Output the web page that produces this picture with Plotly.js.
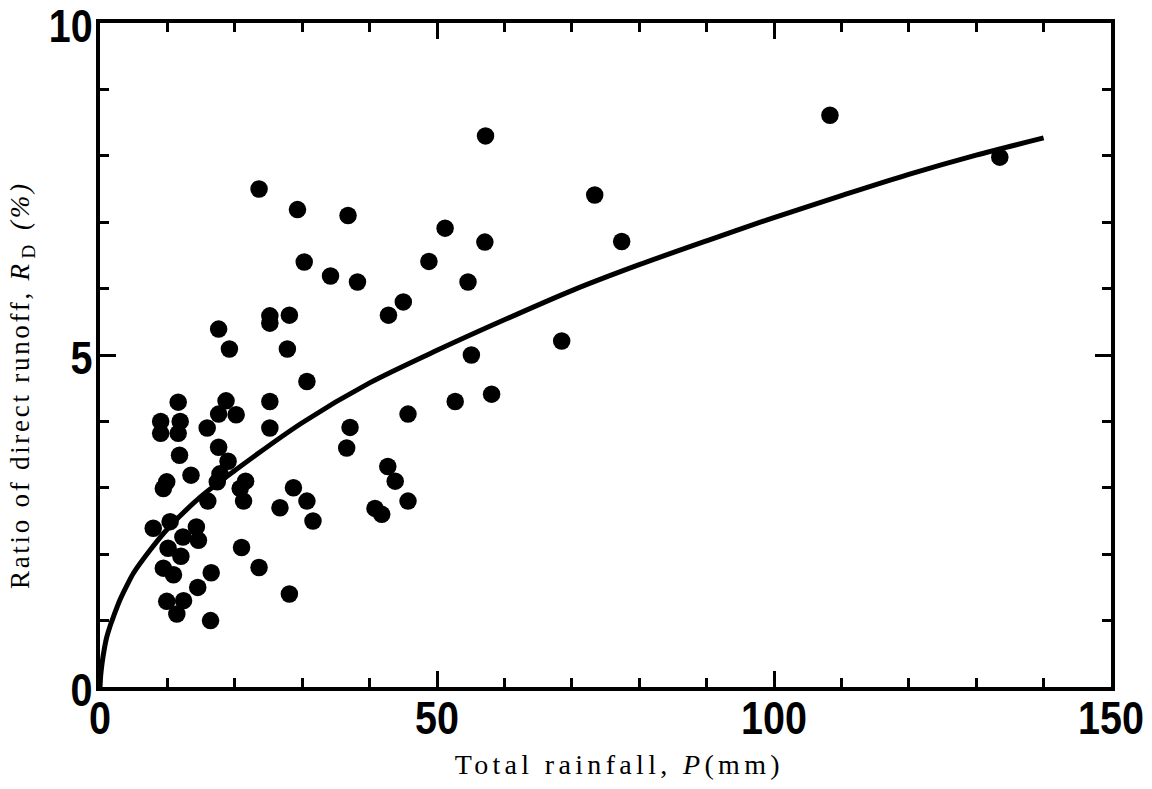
<!DOCTYPE html>
<html>
<head>
<meta charset="utf-8">
<script src="https://cdn.plot.ly/plotly-3.0.1.min.js"></script>
<style>
html,body{margin:0;padding:0;background:#fff;}
#chart{width:1152px;height:789px;}
</style>
</head>
<body>
<div id="chart"></div>
<script>
// Observed storms: total rainfall P (mm) and ratio of direct runoff R_D (%)
const rainfallP = [
  108.3, 133.5, 57.2, 73.4, 77.4, 68.5, 23.6, 29.3, 36.8, 51.2,
  57.1, 30.3, 34.2, 38.2, 48.8, 54.6, 45.0, 42.8, 55.1, 52.7,
  58.1, 45.7, 30.7, 37.1, 36.6, 42.7, 43.8, 28.7, 30.7, 26.7,
  31.6, 45.7, 40.8, 41.8, 28.1, 23.6, 21.0, 25.2, 25.2, 28.1,
  17.6, 19.2, 27.8, 18.7, 17.6, 20.2, 15.9, 25.2, 25.2, 17.6,
  19.0, 17.8, 17.4, 16.0, 21.6, 20.8, 21.3, 11.6, 9.0, 9.0,
  11.9, 11.6, 11.8, 9.9, 9.4, 13.5, 7.9, 10.4, 14.3, 14.6,
  12.3, 10.1, 12.0, 9.4, 10.9, 16.5, 14.5, 9.9, 12.4, 11.4,
  16.4
];
const runoffRD = [
  8.61, 7.98, 8.30, 7.41, 6.71, 5.21, 7.50, 7.19, 7.10, 6.91,
  6.70, 6.40, 6.19, 6.10, 6.41, 6.10, 5.80, 5.60, 5.00, 4.30,
  4.41, 4.11, 4.60, 3.91, 3.60, 3.32, 3.10, 3.00, 2.80, 2.70,
  2.50, 2.80, 2.69, 2.60, 1.40, 1.80, 2.10, 5.59, 5.48, 5.60,
  5.39, 5.09, 5.09, 4.31, 4.11, 4.10, 3.90, 4.30, 3.90, 3.61,
  3.40, 3.21, 3.09, 2.80, 3.10, 2.99, 2.80, 4.29, 4.00, 3.82,
  4.00, 3.82, 3.49, 3.09, 2.99, 3.19, 2.39, 2.49, 2.41, 2.21,
  2.26, 2.09, 1.97, 1.79, 1.69, 1.72, 1.50, 1.29, 1.30, 1.10,
  1.00
];
// Fitted curve
const curveP = [0, 0.1, 0.3, 0.6, 1, 1.5, 2, 3, 4, 5, 7.5, 10, 15, 20, 30, 40, 50, 60, 70, 80, 90, 100, 110, 120, 130, 140];
const curveR = [0, 0.17, 0.35, 0.55, 0.75, 0.92, 1.06, 1.32, 1.53, 1.72, 2.07, 2.38, 2.87, 3.26, 3.98, 4.58, 5.07, 5.53, 5.97, 6.36, 6.72, 7.07, 7.40, 7.72, 8.01, 8.27];

const xTickVals = [0, 50, 100, 150];
const xTickText = ['0', '50', '100', '150'];
const yTickVals = [0, 5, 10];
const yTickText = ['0', '5', '10'];

const tickFont = {family: 'Liberation Sans, Arial, sans-serif', size: 47, color: '#000', weight: 'bold'};
const serif = 'Liberation Serif, Times New Roman, DejaVu Serif, serif';

const traces = [
  {
    x: curveP, y: curveR, type: 'scatter', mode: 'lines',
    line: {color: '#000', width: 5, shape: 'spline', smoothing: 0.8},
    hoverinfo: 'skip', showlegend: false
  },
  {
    x: rainfallP, y: runoffRD, type: 'scatter', mode: 'markers',
    marker: {color: '#000', size: 17.5, line: {width: 0}},
    showlegend: false
  }
];

const axisCommon = {
  showline: true, linecolor: '#000', linewidth: 4, mirror: 'ticks',
  ticks: 'inside', ticklen: 16, tickwidth: 3, tickcolor: '#000',
  showgrid: false, zeroline: false, tickfont: tickFont,
  tickmode: 'array', fixedrange: true, ticklabeloverflow: 'allow'
};

const layout = {
  width: 1152, height: 789,
  margin: {l: 100, r: 41, t: 23, b: 102},
  paper_bgcolor: '#fff', plot_bgcolor: '#fff',
  xaxis: Object.assign({}, axisCommon, {
    range: [0, 150], tickvals: xTickVals, ticktext: xTickText,
    minor: {dtick: 10, tick0: 0, ticks: 'inside', ticklen: 9, tickwidth: 3, tickcolor: '#000', showgrid: false},
    ticklabelstandoff: -13
  }),
  yaxis: Object.assign({}, axisCommon, {
    range: [0, 10], tickvals: yTickVals, ticktext: yTickText,
    minor: {dtick: 1, tick0: 0, ticks: 'inside', ticklen: 9, tickwidth: 3, tickcolor: '#000', showgrid: false},
    ticklabelstandoff: -6, ticklabelshift: 3
  }),
  annotations: [
    {
      text: 'Total rainfall, <i>P</i>(mm)', xref: 'paper', yref: 'paper',
      x: 0.511, y: -0.117, xanchor: 'center', yanchor: 'middle', showarrow: false,
      font: {family: serif, size: 28, color: '#000'}
    },
    {
      text: 'Ratio of direct runoff, <i>R</i><sub>D</sub> <i>(%)</i>', xref: 'paper', yref: 'paper',
      x: 0, xshift: -78, y: 0.452, xanchor: 'center', yanchor: 'middle', textangle: -90, showarrow: false,
      font: {family: serif, size: 27, color: '#000'}
    }
  ]
};

function adjustText() {
  // narrow the bold tick digits like the original lettering
  document.querySelectorAll('#chart .xtick text, #chart .ytick text').forEach(function (t) {
    const w = t.getComputedTextLength();
    t.setAttribute('textLength', (w * 0.84).toFixed(1));
    t.setAttribute('lengthAdjust', 'spacingAndGlyphs');
  });
  // widely tracked axis titles
  const ann = document.querySelectorAll('#chart .annotation-text');
  const targets = [325, 405];
  ann.forEach(function (t, i) {
    if (targets[i]) {
      t.setAttribute('textLength', targets[i]);
      t.setAttribute('lengthAdjust', 'spacing');
    }
  });
}

Plotly.newPlot('chart', traces, layout, {displayModeBar: false, staticPlot: true}).then(adjustText);
</script>
</body>
</html>
